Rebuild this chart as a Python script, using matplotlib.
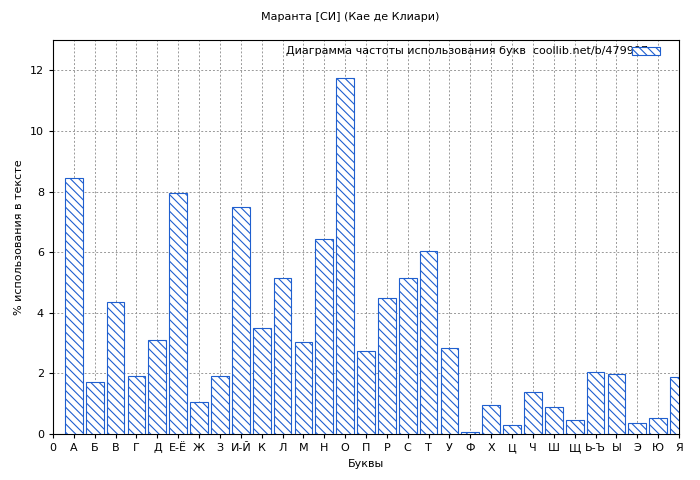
import matplotlib
matplotlib.use("Agg")
import matplotlib.pyplot as plt

letters = ["А","Б","В","Г","Д","Е-Ё","Ж","З","И-Й","К","Л","М","Н","О","П","Р","С","Т","У","Ф","Х","Ц","Ч","Ш","Щ","Ь-Ъ","Ы","Э","Ю","Я"]
values = [8.45,1.7,4.35,1.9,3.1,7.95,1.05,1.9,7.5,3.5,5.15,3.05,6.45,11.75,2.75,4.5,5.15,6.05,2.85,0.07,0.95,0.3,1.38,0.88,0.45,2.05,1.98,0.35,0.52,1.88]

plt.rcParams['hatch.color'] = '#1f5fcf'
plt.rcParams['hatch.linewidth'] = 0.8
fig = plt.figure(figsize=(7, 4.8), dpi=100)
ax = fig.add_axes([53/700, 1-434/480, 626/700, 394/480])
x = list(range(1, len(letters)+1))
ax.bar(x, values, width=0.85, color='white', edgecolor='#1f5fcf', linewidth=0.8,
       hatch='\\\\\\\\', label=' ', zorder=3)
ax.set_xlim(0, 30)
ax.set_ylim(0, 13)
ax.set_xticks([0] + x)
ax.set_xticklabels(["0"] + letters, fontsize=8)
ax.set_yticks(range(0, 13, 2))
ax.tick_params(labelsize=8, direction='out', length=3)
ax.grid(True, linestyle=(0, (2, 2)), color='#999999', linewidth=0.7, zorder=0)
ax.set_xlabel("Буквы", fontsize=8)
ax.set_ylabel("% использования в тексте", fontsize=8)
fig.suptitle("Маранта [СИ] (Кае де Клиари)", fontsize=8, y=0.975)
leg = ax.legend(loc='upper right', fontsize=8, frameon=False, handlelength=2.5,
                handleheight=0.8, borderaxespad=0.2)
ax.text(0.95, 0.985, "Диаграмма частоты использования букв  coollib.net/b/479997",
        transform=ax.transAxes, ha='right', va='top', fontsize=8)
fig.savefig("out.png")
